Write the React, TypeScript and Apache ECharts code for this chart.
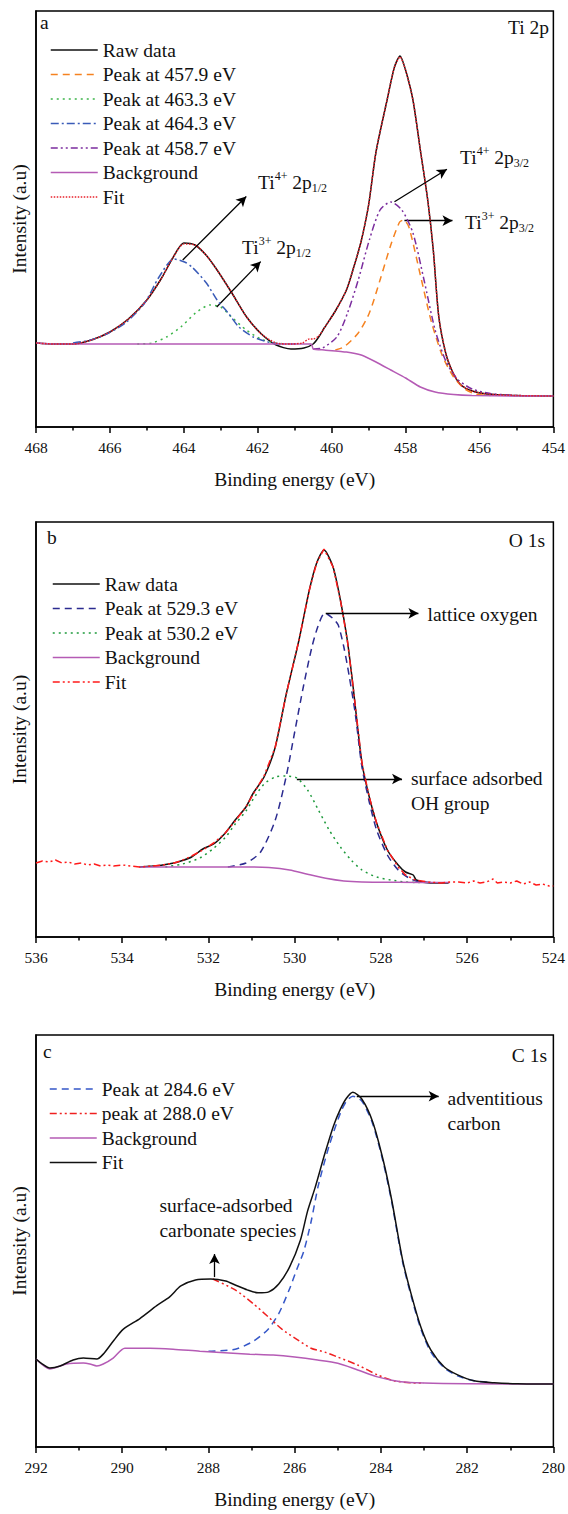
import React, { useEffect, useRef } from "react";
import * as echarts from "echarts";

type Pt = [number, number];

// ---------------- Panel a : Ti 2p ----------------
const tiXRange: Pt = [454, 468];
const tiRaw: Pt[] = [
  [468.0, 84], [467.5, 83], [467.0, 83], [466.5, 87], [466.0, 95], [465.5, 108], [465.0, 127],
  [464.6, 149], [464.3, 169], [464.0, 184], [463.7, 182], [463.4, 172], [463.1, 157], [462.7, 134],
  [462.3, 110], [461.9, 93], [461.5, 82], [461.1, 78], [460.75, 79], [460.5, 83], [460.35, 90],
  [460.2, 99], [459.9, 116], [459.6, 137], [459.4, 160], [459.2, 186], [459.0, 222], [458.8, 275],
  [458.5, 327], [458.3, 360], [458.15, 371], [458.0, 357], [457.8, 327], [457.6, 277], [457.4, 227],
  [457.25, 177], [457.1, 110], [456.9, 72], [456.7, 53], [456.5, 42], [456.2, 36], [455.8, 33],
  [455.0, 31.5], [454.0, 31],
];
const tiPeak4579: Pt[] = [
  [459.9, 77], [459.67, 80], [459.28, 94], [458.98, 114], [458.69, 147], [458.4, 182], [458.16, 205],
  [458.05, 207], [457.91, 200], [457.6, 152], [457.3, 105], [457.0, 71], [456.7, 50], [456.4, 38],
  [456.1, 33], [455.7, 31.5],
];
const tiPeak4633: Pt[] = [
  [465.26, 83], [464.86, 84], [464.47, 90], [464.08, 100], [463.68, 114], [463.29, 122], [463.0, 120],
  [462.71, 110], [462.31, 97], [461.92, 88], [461.53, 84], [461.1, 83],
];
const tiPeak4643: Pt[] = [
  [467.0, 84], [466.52, 87], [466.03, 94], [465.55, 105], [465.06, 124], [464.67, 150], [464.27, 168],
  [463.98, 165], [463.78, 160], [463.39, 144], [463.1, 127], [462.8, 114], [462.51, 100], [462.12, 90],
  [461.72, 85], [461.33, 83], [460.9, 83],
];
const tiPeak4587: Pt[] = [
  [460.5, 78], [460.25, 79], [459.86, 90], [459.57, 114], [459.28, 147], [458.98, 187], [458.69, 217],
  [458.4, 225], [458.1, 217], [457.8, 194], [457.5, 147], [457.2, 97], [456.9, 65], [456.6, 48],
  [456.2, 38], [455.7, 33.5], [455.0, 31.5], [454.3, 31],
];
const tiBackground: Pt[] = [
  [468.0, 84], [467.5, 83], [466.0, 83], [464.0, 83], [462.0, 83], [460.55, 83], [460.5, 78],
  [460.2, 77], [459.6, 75], [459.2, 72], [458.8, 65], [458.4, 57], [458.0, 49], [457.6, 40],
  [457.2, 35], [456.7, 32.5], [456.2, 31.5], [455.0, 31], [454.0, 31],
];
const tiFit: Pt[] = [
  [468.0, 84], [467.5, 83], [467.0, 83], [466.5, 87], [466.0, 95], [465.5, 108], [465.0, 127],
  [464.6, 149], [464.3, 169], [464.0, 183], [463.7, 182], [463.4, 172], [463.1, 157], [462.7, 134],
  [462.3, 110], [461.9, 93], [461.5, 84], [461.1, 83], [460.8, 84], [460.6, 88], [460.5, 88],
  [460.35, 91], [460.2, 99], [459.9, 116], [459.6, 137], [459.4, 160], [459.2, 186], [459.0, 222],
  [458.8, 275], [458.5, 327], [458.3, 360], [458.15, 370], [458.0, 357], [457.8, 327], [457.6, 277],
  [457.4, 227], [457.25, 177], [457.1, 110], [456.9, 72], [456.7, 53], [456.5, 42], [456.2, 36],
  [455.8, 33], [455.0, 31.5], [454.0, 31],
];

// ---------------- Panel b : O 1s ----------------
const oXRange: Pt = [524, 536];
const oRaw: Pt[] = [
  [533.6, 70], [533.3, 71], [533.06, 72], [532.8, 74], [532.64, 76], [532.39, 80], [532.13, 88],
  [531.88, 93], [531.63, 103], [531.38, 117], [531.13, 130], [530.96, 144], [530.71, 160], [530.45, 190],
  [530.2, 242], [529.9, 297], [529.66, 347], [529.49, 374], [529.32, 387], [529.11, 370], [528.94, 337],
  [528.78, 297], [528.65, 252], [528.44, 174], [528.27, 140], [528.1, 114], [527.85, 87], [527.6, 72],
  [527.43, 65], [527.25, 62], [527.18, 57], [526.85, 54], [526.43, 54],
];
const oPeak5293: Pt[] = [
  [531.55, 70], [531.13, 74], [530.79, 85], [530.45, 117], [530.2, 160], [530.0, 205], [529.8, 250],
  [529.6, 290], [529.45, 312], [529.3, 324], [529.1, 318], [528.99, 312], [528.86, 290], [528.74, 262],
  [528.6, 225], [528.44, 170], [528.27, 135], [528.1, 107], [527.85, 82], [527.6, 67], [527.35, 59],
  [527.1, 55], [526.8, 54.5],
];
const oPeak5302: Pt[] = [
  [533.0, 70], [532.6, 73], [532.2, 79], [531.9, 88], [531.6, 100], [531.38, 113], [531.13, 126],
  [530.96, 138], [530.71, 153], [530.45, 160], [530.2, 161], [529.95, 159], [529.7, 147], [529.45, 127],
  [529.2, 107], [528.94, 90], [528.69, 77], [528.44, 67], [528.1, 60], [527.77, 57], [527.43, 55],
  [527.1, 54.5],
];
const oBackground: Pt[] = [
  [533.6, 70], [532.0, 70], [531.0, 70], [530.6, 69.5], [530.12, 67], [529.7, 62.7], [529.28, 58.7],
  [528.86, 56], [528.44, 55], [527.6, 54.7], [526.4, 54.5],
];
const oFit: Pt[] = [
  [536.0, 74], [535.85, 76], [535.7, 75], [535.55, 77], [535.4, 74], [535.25, 75], [535.1, 73],
  [534.95, 74], [534.8, 72], [534.65, 73], [534.5, 71], [534.35, 72], [534.2, 71], [534.0, 72],
  [533.8, 71], [533.6, 70], [533.3, 71], [533.06, 72], [532.8, 74], [532.64, 76], [532.39, 81],
  [532.13, 87], [531.88, 94], [531.63, 103], [531.38, 116], [531.13, 130], [530.96, 143], [530.71, 161],
  [530.45, 190], [530.2, 242], [529.9, 297], [529.66, 347], [529.49, 374], [529.32, 388], [529.11, 370],
  [528.94, 337], [528.78, 297], [528.65, 252], [528.44, 174], [528.27, 140], [528.1, 114], [527.85, 87],
  [527.6, 70], [527.43, 62], [527.2, 57], [526.9, 55], [526.6, 54], [526.4, 55], [526.2, 55], [526.0, 54],
  [525.85, 56], [525.7, 54], [525.55, 55], [525.4, 58], [525.3, 54], [525.15, 55], [525.0, 54],
  [524.85, 56], [524.7, 53], [524.55, 55], [524.4, 52], [524.25, 53], [524.1, 51], [524.0, 51],
];

// ---------------- Panel c : C 1s ----------------
const cXRange: Pt = [280, 292];
const cPeak2846: Pt[] = [
  [288.0, 97], [287.38, 99], [286.96, 107], [286.62, 119], [286.37, 135], [286.12, 160], [285.95, 180],
  [285.79, 198], [285.62, 228], [285.45, 265], [285.2, 305], [284.94, 338], [284.8, 350], [284.65, 355],
  [284.44, 350], [284.19, 327], [283.94, 287], [283.75, 248], [283.5, 188], [283.3, 153], [283.07, 119],
  [282.84, 96], [282.53, 80], [282.22, 72], [281.84, 67], [281.4, 65],
];
const cPeak2880: Pt[] = [
  [287.9, 170], [287.38, 159], [286.96, 145], [286.62, 132], [286.29, 119], [285.95, 109], [285.62, 100],
  [285.3, 96], [285.0, 91], [284.54, 83], [284.08, 73], [283.7, 67], [283.3, 65], [283.0, 64.7],
];
const cBackground: Pt[] = [
  [292.0, 89], [291.68, 79], [291.29, 84], [290.9, 85], [290.75, 84], [290.59, 82], [290.44, 84],
  [290.21, 90], [289.94, 100], [289.36, 100], [288.82, 99], [288.2, 97], [287.43, 95], [287.04, 94],
  [286.5, 93], [286.0, 91], [285.47, 88], [285.0, 84.7], [284.54, 78], [284.08, 71], [283.54, 66],
  [283.0, 64.7], [282.0, 64], [280.0, 63.7],
];
const cFit: Pt[] = [
  [292.0, 89], [291.85, 84], [291.68, 80], [291.44, 82], [291.14, 88], [290.9, 90], [290.59, 89],
  [290.44, 94], [290.21, 107], [289.98, 119], [289.59, 130], [289.2, 143], [288.9, 152], [288.64, 163],
  [288.3, 169], [287.95, 170], [287.6, 168], [287.38, 164], [287.1, 159], [286.85, 156], [286.6, 157],
  [286.37, 165], [286.12, 182], [285.87, 209], [285.7, 239], [285.53, 262], [285.3, 297], [285.1, 325],
  [284.94, 342], [284.8, 353], [284.65, 359], [284.44, 352], [284.19, 329], [283.94, 289], [283.75, 250],
  [283.5, 190], [283.3, 155], [283.07, 121], [282.84, 98], [282.53, 81], [282.22, 73], [281.84, 67],
  [281.37, 65], [280.83, 64], [280.0, 63.7],
];

// ---------------- presentation ----------------
const FONT = "Liberation Serif";
const INK = "#111111";

interface LineDef { name: string; data: Pt[]; color: string; dash: number[] | null; smooth?: number | boolean }
interface ArrowDef { from: Pt; to: Pt }
interface NoteDef { x: number; y: number; text: string; rich?: boolean }
interface PanelDef {
  top: number; height: number; gridH: number; xRange: Pt; yMax: number;
  letter: string; letterPos: Pt; element: string; elementPos: Pt;
  legendLeft: number; legendTop: number;
  lines: LineDef[]; arrows: ArrowDef[]; notes: NoteDef[];
}

const DASH = [7, 5];
const DOT = [2, 4];
const DASHDOT = [8, 3, 2, 3];
const DASHDOTDOT = [7, 3, 2, 3, 2, 3];
const SHORTDOT = [1.5, 1.5];

const panelA: PanelDef = {
  top: 0, height: 505, gridH: 416, xRange: tiXRange, yMax: 416,
  letter: "a", letterPos: [40, 22], element: "Ti 2p", elementPos: [549, 27],
  legendLeft: 50, legendTop: 40,
  lines: [
    { name: "Raw data", data: tiRaw, color: "#111111", dash: null },
    { name: "Peak at 457.9 eV", data: tiPeak4579, color: "#F58220", dash: DASH },
    { name: "Peak at 463.3 eV", data: tiPeak4633, color: "#3DB54A", dash: DOT },
    { name: "Peak at 464.3 eV", data: tiPeak4643, color: "#3A5BB8", dash: DASHDOT },
    { name: "Peak at 458.7 eV", data: tiPeak4587, color: "#7B2D9E", dash: DASHDOTDOT },
    { name: "Background", data: tiBackground, color: "#B55BB5", dash: null, smooth: 0.15 },
    { name: "Fit", data: tiFit, color: "#E8202A", dash: SHORTDOT },
  ],
  arrows: [
    { from: [464.03, 167], to: [462.31, 230.5] },
    { from: [463.11, 120], to: [461.92, 165.4] },
    { from: [458.3, 225.3], to: [456.88, 257.7] },
    { from: [458.03, 206.3], to: [456.73, 206.3] },
  ],
  notes: [
    { x: 258, y: 182, text: "{m|Ti}{sup|4+}{m| 2p}{sub|1/2}", rich: true },
    { x: 242, y: 247, text: "{m|Ti}{sup|3+}{m| 2p}{sub|1/2}", rich: true },
    { x: 460, y: 157, text: "{m|Ti}{sup|4+}{m| 2p}{sub|3/2}", rich: true },
    { x: 465, y: 222, text: "{m|Ti}{sup|3+}{m| 2p}{sub|3/2}", rich: true },
  ],
};

const panelB: PanelDef = {
  top: 511, height: 505, gridH: 415, xRange: oXRange, yMax: 415,
  letter: "b", letterPos: [47, 26.5], element: "O 1s", elementPos: [545, 29],
  legendLeft: 52, legendTop: 63,
  lines: [
    { name: "Raw data", data: oRaw, color: "#111111", dash: null },
    { name: "Peak at 529.3 eV", data: oPeak5293, color: "#2B2B90", dash: DASH },
    { name: "Peak at 530.2 eV", data: oPeak5302, color: "#1E9A3C", dash: DOT },
    { name: "Background", data: oBackground, color: "#B55BB5", dash: null },
    { name: "Fit", data: oFit, color: "#FF1A1A", dash: DASHDOTDOT, smooth: false },
  ],
  arrows: [
    { from: [529.28, 323.7], to: [527.13, 323.7] },
    { from: [529.95, 158], to: [527.51, 158] },
  ],
  notes: [
    { x: 427.5, y: 103, text: "lattice oxygen" },
    { x: 411, y: 267, text: "surface adsorbed" },
    { x: 411, y: 292, text: "OH group" },
  ],
};

const panelC: PanelDef = {
  top: 1024, height: 490, gridH: 417, xRange: cXRange, yMax: 417,
  letter: "c", letterPos: [43, 27], element: "C 1s", elementPos: [547, 31],
  legendLeft: 49, legendTop: 55,
  lines: [
    { name: "Peak at 284.6 eV", data: cPeak2846, color: "#3557C8", dash: DASH },
    { name: "peak at 288.0 eV", data: cPeak2880, color: "#F02020", dash: DASHDOTDOT },
    { name: "Background", data: cBackground, color: "#B55BB5", dash: null },
    { name: "Fit", data: cFit, color: "#111111", dash: null },
  ],
  arrows: [
    { from: [284.56, 355], to: [282.66, 355] },
    { from: [287.86, 172], to: [287.86, 195.3] },
  ],
  notes: [
    { x: 447.5, y: 74, text: "adventitious" },
    { x: 447.5, y: 99, text: "carbon" },
    { x: 159.4, y: 181, text: "surface-adsorbed" },
    { x: 159.4, y: 206, text: "carbonate species" },
  ],
};

const richStyles = {
  m: { fontSize: 19.5, fontFamily: FONT, fill: INK, lineHeight: 24 },
  sup: { fontSize: 12, fontFamily: FONT, fill: INK, lineHeight: 18, verticalAlign: "top" },
  sub: { fontSize: 12, fontFamily: FONT, fill: INK, lineHeight: 10, verticalAlign: "bottom" },
};

function textEl(x: number, y: number, text: string, align: string, rich?: boolean): any {
  const style: any = {
    text,
    fontSize: 19.5,
    fontFamily: FONT,
    fill: INK,
    align,
    textAlign: align,
    verticalAlign: "middle",
    textVerticalAlign: "middle",
  };
  if (rich) style.rich = richStyles;
  return { type: "text", x, y, silent: true, style };
}

function buildOption(p: PanelDef): any {
  const series = p.lines.map((l, i) => {
    const s: any = {
      type: "line",
      name: l.name,
      data: l.data,
      showSymbol: false,
      symbol: "none",
      smooth: l.smooth === undefined ? 0.25 : l.smooth,
      lineStyle: { color: l.color, width: 1.5, type: l.dash ? l.dash : "solid", cap: "butt" },
      itemStyle: { color: l.color },
      emphasis: { disabled: true },
      z: 2 + i,
    };
    if (i === 0) {
      s.markLine = {
        silent: true,
        animation: false,
        symbol: ["none", "arrow"],
        symbolSize: [8, 10],
        label: { show: false },
        lineStyle: { color: "#000", width: 1.3, type: "solid" },
        emphasis: { disabled: true },
        data: p.arrows.map((a) => [{ coord: a.from }, { coord: a.to }]),
      };
    }
    return s;
  });

  const graphics: any[] = [
    textEl(p.letterPos[0], p.letterPos[1], p.letter, "left"),
    textEl(p.elementPos[0], p.elementPos[1], p.element, "right"),
    ...p.notes.map((n) => textEl(n.x, n.y, n.text, "left", n.rich)),
  ];

  return {
    animation: false,
    backgroundColor: "#ffffff",
    textStyle: { fontFamily: FONT },
    grid: {
      left: 36, top: 11, width: 518, height: p.gridH,
      show: true, borderColor: "#000", borderWidth: 1.5, backgroundColor: "transparent",
    },
    legend: {
      orient: "vertical",
      left: p.legendLeft,
      top: p.legendTop,
      padding: 0,
      itemWidth: 47,
      itemHeight: 14,
      itemGap: 4.5,
      selectedMode: false,
      lineStyle: { width: 1.5 },
      itemStyle: { opacity: 0 },
      textStyle: { fontFamily: FONT, fontSize: 19.5, color: INK, lineHeight: 20 },
      data: p.lines.map((l) => l.name),
    },
    xAxis: {
      type: "value",
      inverse: true,
      min: p.xRange[0],
      max: p.xRange[1],
      interval: 2,
      name: "Binding energy (eV)",
      nameLocation: "middle",
      nameGap: 42,
      nameTextStyle: { fontFamily: FONT, fontSize: 19.5, color: INK },
      axisLine: { lineStyle: { color: "#000", width: 1.5 } },
      axisTick: { show: true, inside: false, length: 6, lineStyle: { color: "#000", width: 1.5 } },
      minorTick: { show: true, splitNumber: 2, length: 3.5, lineStyle: { color: "#000", width: 1.5 } },
      axisLabel: { fontFamily: FONT, fontSize: 15.5, color: INK, margin: 12 },
      splitLine: { show: false },
      minorSplitLine: { show: false },
    },
    yAxis: {
      type: "value",
      min: 0,
      max: p.yMax,
      name: "Intensity (a.u)",
      nameLocation: "middle",
      nameGap: 7,
      nameTextStyle: { fontFamily: FONT, fontSize: 19.5, color: INK },
      axisLine: { show: true, lineStyle: { color: "#000", width: 1.5 } },
      axisTick: { show: false },
      axisLabel: { show: false },
      splitLine: { show: false },
    },
    series,
    graphic: { elements: graphics },
  };
}

function PanelChart({ def }: { def: PanelDef }) {
  const ref = useRef<HTMLDivElement>(null);
  useEffect(() => {
    if (!ref.current) return;
    const chart = echarts.init(ref.current, undefined, { renderer: "svg" });
    chart.setOption(buildOption(def));
    return () => chart.dispose();
  }, [def]);
  return (
    <div
      ref={ref}
      style={{ position: "absolute", left: 0, top: def.top, width: 568, height: def.height }}
    />
  );
}

export default function App() {
  return (
    <div style={{ position: "absolute", left: 0, top: 0, width: 568, height: 1514, background: "#fff" }}>
      <PanelChart def={panelA} />
      <PanelChart def={panelB} />
      <PanelChart def={panelC} />
    </div>
  );
}
